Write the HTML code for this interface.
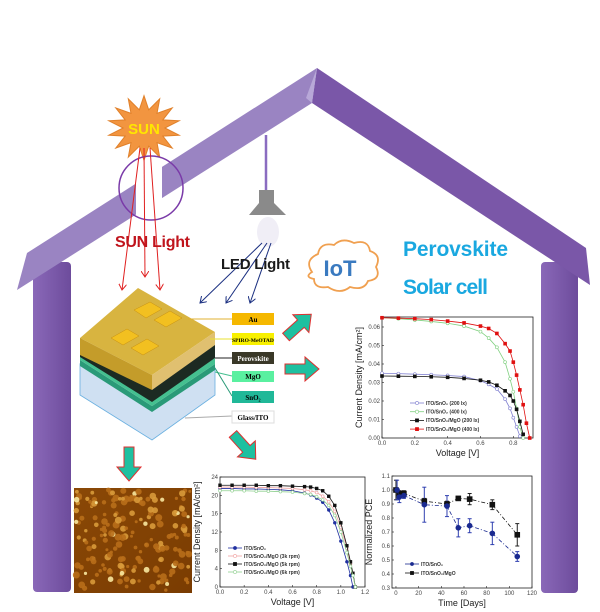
<!DOCTYPE html>
<html><head><meta charset="utf-8">
<style>
html,body{margin:0;padding:0;background:#fff;}
svg{display:block;font-family:"Liberation Sans",sans-serif;}
</style></head>
<body>
<svg id="s" width="600" height="612" viewBox="0 0 600 612" xmlns="http://www.w3.org/2000/svg">
<defs>
<linearGradient id="wallg" x1="0" x2="1"><stop offset="0" stop-color="#8a68b8"/><stop offset="1" stop-color="#6d4c9c"/></linearGradient>
<linearGradient id="afm" x1="0" y1="0" x2="1" y2="1"><stop offset="0" stop-color="#8a4806"/><stop offset="1" stop-color="#7a3c02"/></linearGradient>
<marker id="ar" markerWidth="8" markerHeight="8" refX="6" refY="4" orient="auto" markerUnits="userSpaceOnUse"><path d="M0,0 L6,4 L0,8" fill="none" stroke="#e02020" stroke-width="1"/></marker>
<marker id="ab" markerWidth="8" markerHeight="8" refX="6" refY="4" orient="auto" markerUnits="userSpaceOnUse"><path d="M0,0 L6,4 L0,8" fill="none" stroke="#1a2f80" stroke-width="1"/></marker>
</defs>
<!-- house -->
<g>
<rect x="33" y="262" width="38" height="330" rx="4" fill="url(#wallg)"/>
<rect x="541" y="262" width="37" height="331" rx="4" fill="url(#wallg)"/>
<polygon points="27,253 317,68 312,103 17,290" fill="#9a84c2"/>
<polygon points="317,68 586,248 590,285 312,103" fill="#7a57a8"/>
<polygon points="317,68 312,103 306,98" fill="#b8a8d8"/>
<rect x="136" y="150" width="26" height="80" fill="#fff"/>
</g>
<!-- sun -->
<g>
<polygon id="star" fill="#f29540" stroke="#e0802a" stroke-width="1"/>
<text x="144" y="134" font-size="15" font-weight="bold" fill="#ffe600" text-anchor="middle">SUN</text>
</g>
<circle cx="151" cy="188" r="32" fill="none" stroke="#7a3aa8" stroke-width="1.5"/>
<g stroke="#e02020" stroke-width="1">
<line x1="140" y1="148" x2="122" y2="290" marker-end="url(#ar)"/>
<line x1="144" y1="148" x2="145" y2="277" marker-end="url(#ar)"/>
<line x1="150" y1="148" x2="160" y2="290" marker-end="url(#ar)"/>
</g>
<text x="115" y="247" font-size="16" font-weight="bold" fill="#c0141c" textLength="75">SUN Light</text>
<!-- lamp -->
<g>
<line x1="266" y1="135" x2="266" y2="191" stroke="#8a6cc0" stroke-width="2.5"/>
<polygon points="259,190 274,190 274,203 286,215 249,215 259,203" fill="#8a8a8a"/>
<ellipse cx="268" cy="232" rx="11" ry="15" fill="#f0eef6"/>
</g>
<g stroke="#1a2f80" stroke-width="1">
<line x1="262" y1="243" x2="200" y2="303" marker-end="url(#ab)"/>
<line x1="267" y1="243" x2="226" y2="303" marker-end="url(#ab)"/>
<line x1="271" y1="243" x2="250" y2="303" marker-end="url(#ab)"/>
</g>
<text x="221" y="269" font-size="15" font-weight="bold" fill="#1a1a1a" textLength="69">LED Light</text>
<g>
<path d="M312,272 q-8,-12 6,-18 q2,-12 16,-9 q8,-8 20,-2 q14,-4 16,8 q12,4 6,16 q6,12 -8,14 q-4,10 -18,6 q-10,8 -22,0 q-14,2 -14,-8 q-10,-2 -2,-7z" fill="#fff" stroke="#f0a050" stroke-width="1.8"/>
<text x="340" y="276" font-size="22" font-weight="bold" fill="#3a7ac0" text-anchor="middle">IoT</text>
</g>
<text x="403" y="256" font-size="21" font-weight="bold" fill="#1aa8e0" textLength="105">Perovskite</text>
<text x="403" y="294" font-size="21" font-weight="bold" fill="#1aa8e0" textLength="85">Solar cell</text>
<!-- device stack -->
<g>
<polygon points="80,364 152,410 215,368 215,395 152,440 80,395" fill="#cfe0f2" stroke="#6ab0e0" stroke-width="0.8"/>
<polygon points="80,360 152,406 215,364 215,370 152,412 80,366" fill="#2a9a78"/>
<polygon points="80,355 152,400 215,358 215,364 152,406 80,360" fill="#45c090"/>
<polygon points="80,338 152,383 215,340 215,358 152,402 80,357" fill="#1c2a22"/>
<polygon points="80,338 138,288 215,332 152,375" fill="#d8b440"/>
<polygon points="80,338 152,375 152,390 80,355" fill="#c49c2a"/>
<polygon points="152,375 215,332 215,345 152,390" fill="#e0c070"/>
<g fill="#f2c020" stroke="#c89010" stroke-width="0.5">
<polygon points="134,310 150,302 162,309 146,318"/>
<polygon points="111,338 127,329 139,336 123,345"/>
<polygon points="154,320 170,311 182,318 166,327"/>
<polygon points="131,348 147,339 159,346 143,355"/>
</g>
</g>
<g font-family="Liberation Serif,serif" font-size="7" font-weight="bold" text-anchor="middle">
<line x1="188" y1="319" x2="232" y2="319" stroke="#e0b030"/><rect x="232" y="313" width="42" height="12" fill="#f5b800"/><text x="253" y="322">Au</text>
<line x1="210" y1="339" x2="232" y2="339" stroke="#e8e030"/><rect x="232" y="333" width="42" height="12" fill="#f8f000"/><text x="253" y="342" font-size="5.5">SPIRO-MeOTAD</text>
<line x1="215" y1="358" x2="232" y2="358" stroke="#222"/><rect x="232" y="352" width="42" height="12" fill="#3a3828"/><text x="253" y="361" fill="#fff">Perovskite</text>
<line x1="215" y1="372" x2="232" y2="376" stroke="#45c090"/><rect x="232" y="371" width="42" height="11" fill="#5af0a0"/><text x="253" y="379">MgO</text>
<line x1="215" y1="368" x2="232" y2="396" stroke="#2a9a78"/><rect x="232" y="391" width="42" height="12" fill="#20b898"/><text x="253" y="400">SnO₂</text>
<line x1="185" y1="418" x2="232" y2="416" stroke="#aaa"/><rect x="232" y="411" width="42" height="12" fill="#fff" stroke="#ddd"/><text x="253" y="420">Glass/ITO</text>
</g>
<!-- green arrows -->
<g fill="#1ec0a0" stroke="#e03030" stroke-width="1">
<polygon points="0,-5 20,-5 20,-12 34,0 20,12 20,5 0,5" transform="translate(285,369)"/>
<polygon points="0,-5 20,-5 20,-12 34,0 20,12 20,5 0,5" transform="translate(286,337) rotate(-42)"/>
<polygon points="0,-5 20,-5 20,-12 34,0 20,12 20,5 0,5" transform="translate(233,434) rotate(48)"/>
<polygon points="0,-5 20,-5 20,-12 34,0 20,12 20,5 0,5" transform="translate(129,447) rotate(90)"/>
</g>
<!-- AFM -->
<rect x="74" y="488" width="118" height="105" fill="url(#afm)"/>
<g id="afmdots"></g>
<g id="c1"></g>
<g id="c2"></g>
<g id="c3"></g>
</svg>
<script>
// ---- chart 1 data (low-light J-V)
const c1V=[0,0.1,0.2,0.3,0.4,0.5,0.6,0.65,0.7,0.75,0.78,0.8,0.82,0.84,0.86,0.88,0.9];
const c1A=[0.035,0.0348,0.0345,0.0342,0.0338,0.0332,0.031,0.029,0.0265,0.021,0.016,0.011,0.006,0.001,null,null,null];
const c1B=[0.065,0.0645,0.0638,0.063,0.062,0.0605,0.0575,0.054,0.049,0.041,0.032,0.025,0.016,0.006,0,null,null];
const c1C=[0.0335,0.0334,0.0333,0.0331,0.0328,0.0322,0.0312,0.0303,0.0285,0.0255,0.023,0.02,0.0155,0.009,0.002,null,null];
const c1D=[0.065,0.0648,0.0645,0.064,0.0632,0.0622,0.0605,0.0592,0.0565,0.051,0.047,0.041,0.034,0.026,0.018,0.008,0];
const c1Names=["ITO/SnO₂ (200 lx)","ITO/SnO₂ (400 lx)","ITO/SnO₂/MgO (200 lx)","ITO/SnO₂/MgO (400 lx)"];
const c1YTicks=[0,0.01,0.02,0.03,0.04,0.05,0.06];
const c1XTicks=[0,0.2,0.4,0.6,0.8];
// ---- chart 2 data (J-V spin speeds)
const c2V=[0,0.1,0.2,0.3,0.4,0.5,0.6,0.7,0.75,0.8,0.85,0.9,0.95,1.0,1.05,1.08,1.1,1.12,1.14];
const c2A=[21.5,21.5,21.4,21.4,21.3,21.2,21,20.5,20.1,19.4,18.5,16.8,14,10,5.5,2.5,0,null,null];
const c2B=[21.8,21.8,21.8,21.7,21.7,21.6,21.5,21.2,21,20.6,19.8,18.6,16.5,13,8.5,5,3,0,null];
const c2C=[22.2,22.2,22.2,22.2,22.1,22.1,22,21.9,21.8,21.5,21,19.8,17.8,14,9,5.5,3,0,null];
const c2D=[21,21,21,20.9,20.9,20.8,20.7,20.4,20.2,19.7,19,17.8,15.6,12,7.5,4.5,2.5,0,null];
const c2Names=["ITO/SnO₂","ITO/SnO₂/MgO (3k rpm)","ITO/SnO₂/MgO (5k rpm)","ITO/SnO₂/MgO (6k rpm)"];
const c2YTicks=[0,4,8,12,16,20,24];
const c2XTicks=[0,0.2,0.4,0.6,0.8,1.0,1.2];
// ---- chart 3 data (stability)
const c3DaysA=[1,3,7,25,45,55,65,85,107];
const c3A=[1.0,0.95,0.96,0.895,0.885,0.73,0.745,0.69,0.525];
const c3ErrA=[0.07,0.04,0.02,0.125,0.075,0.065,0.05,0.08,0.035];
const c3DaysB=[0,3,7,25,45,55,65,85,107];
const c3B=[1.0,0.975,0.975,0.92,0.9,0.94,0.935,0.895,0.68];
const c3ErrB=[0.07,0.02,0.02,0.02,0.02,0.01,0.04,0.035,0.08];
const c3Names=["ITO/SnO₂","ITO/SnO₂/MgO"];
const c3YTicks=[0.3,0.4,0.5,0.6,0.7,0.8,0.9,1.0,1.1];
const c3XTicks=[0,20,40,60,80,100,120];

const NS="http://www.w3.org/2000/svg";
function mk(p,t,a){const e=document.createElementNS(NS,t);for(const k in a)e.setAttribute(k,a[k]);p.appendChild(e);return e;}
function txt(p,x,y,s,fs,anc,extra){const e=mk(p,'text',Object.assign({x:x,y:y,'font-size':fs,'text-anchor':anc||'start',fill:'#222'},extra||{}));e.textContent=s;return e;}

// star
(function(){const pts=[];const n=14;for(let i=0;i<2*n;i++){const a=i*Math.PI/n-Math.PI/2;const r=i%2?22:38;pts.push((144+r*Math.cos(a)*0.95).toFixed(1)+','+(128+r*Math.sin(a)*0.85).toFixed(1));}document.getElementById('star').setAttribute('points',pts.join(' '));})();

// AFM grains (decorative texture)
(function(){const g=document.getElementById('afmdots');let s=7;function rnd(){s=(s*9301+49297)%233280;return s/233280;}
for(let i=0;i<190;i++){const b=rnd();mk(g,'circle',{cx:(76+rnd()*114).toFixed(1),cy:(490+rnd()*101).toFixed(1),r:(1.5+rnd()*2).toFixed(1),fill:b>0.9?'#f8e8a0':(b>0.6?'#d89a3a':'#b86e1a'),opacity:0.9});}
})();

function frame(g,L,T,R,B,xmin,xmax,ymin,ymax,xt,yt,xfmt,yfmt,xl,yl){
  const sx=v=>L+(v-xmin)/(xmax-xmin)*(R-L), sy=v=>B-(v-ymin)/(ymax-ymin)*(B-T);
  const fr=mk(g,'rect',{x:L,y:T,width:R-L,height:B-T,fill:'#fff',stroke:'#222','stroke-width':0.8});
  
  
  xt.forEach(v=>{mk(g,'line',{x1:sx(v),x2:sx(v),y1:B,y2:B-2,stroke:'#222','stroke-width':0.6});
    const t=txt(g,sx(v),B+7,xfmt(v),6,'middle',{fill:'#444'});});
  yt.forEach(v=>{mk(g,'line',{x1:L,x2:L+2,y1:sy(v),y2:sy(v),stroke:'#222','stroke-width':0.6});
    const t=txt(g,L-2,sy(v)+2,yfmt(v),6,'end',{fill:'#444'});});
  const xa=txt(g,(L+R)/2,B+18,xl,9,'middle');
  const ya=txt(g,0,0,yl,9,'middle',{transform:`translate(${L-20},${(T+B)/2}) rotate(-90)`});
  return [sx,sy];
}
function marker(g,x,y,shape,col,fill,r){
  let e;
  if(shape==='c')e=mk(g,'circle',{cx:x,cy:y,r:r,fill:fill,stroke:col,'stroke-width':0.6});
  else e=mk(g,'rect',{x:x-r,y:y-r,width:2*r,height:2*r,fill:fill,stroke:col,'stroke-width':0.6});
  
  
}
function series(g,sx,sy,xs,ys,col,shape,fill,r,dash){
  const pts=[];xs.forEach((x,i)=>{if(ys[i]!=null)pts.push([sx(x),sy(ys[i])]);});
  const l=mk(g,'polyline',{points:pts.map(p=>p.join(',')).join(' '),fill:'none',stroke:col,'stroke-width':0.8,'stroke-dasharray':dash||'none'});
  
  
  pts.forEach(p=>marker(g,p[0],p[1],shape,col,fill,r));
}
function legend(g,x,y,dy,names,cols,shapes,fills){
  names.forEach((n,i)=>{const yy=y+i*dy;mk(g,'line',{x1:x,x2:x+14,y1:yy,y2:yy,stroke:cols[i],'stroke-width':0.8});
    marker(g,x+7,yy,shapes[i],cols[i],fills[i],1.6);
    const t=txt(g,x+16,yy+1.8,n,5,'start',{'font-weight':'bold',fill:'#333'});
    
    });
}
// chart 1
(function(){const g=document.getElementById('c1');
 const [sx,sy]=frame(g,382,317,533,438,0,0.92,0,0.0654,c1XTicks,c1YTicks,v=>v.toFixed(1),v=>v.toFixed(2),'Voltage [V]','Current Density [mA/cm²]');
 const cols=['#8080d0','#80d080','#111','#e01010'],fills=['#fff','#fff','#111','#e01010'];
 [c1A,c1B,c1C,c1D].forEach((s,i)=>series(g,sx,sy,c1V,s,cols[i],i<2?'c':'s',fills[i],1.5));
 legend(g,410,403,8.7,c1Names,cols,['c','c','s','s'],fills);})();
// chart 2
(function(){const g=document.getElementById('c2');
 const [sx,sy]=frame(g,220,477,365,587,0,1.2,0,24,c2XTicks,c2YTicks,v=>v.toFixed(1),v=>String(v),'Voltage [V]','Current Density [mA/cm²]');
 const cols=['#2030a0','#f0a0a0','#111','#90d090'],fills=['#2030a0','#fff','#111','#fff'];
 [c2A,c2B,c2C,c2D].forEach((s,i)=>series(g,sx,sy,c2V,s,cols[i],i===2?'s':'c',fills[i],1.4));
 legend(g,228,548,8,c2Names,cols,['c','c','s','c'],fills);})();
// chart 3
(function(){const g=document.getElementById('c3');
 const [sx,sy]=frame(g,392,476,532,588,-3.5,120,0.3,1.1,c3XTicks,c3YTicks,v=>String(v),v=>v.toFixed(1),'Time [Days]','Normalized PCE');
 function eb(xs,ys,es,col){xs.forEach((x,i)=>{const X=sx(x);mk(g,'line',{x1:X,x2:X,y1:sy(ys[i]-es[i]),y2:sy(ys[i]+es[i]),stroke:col,'stroke-width':1});
  mk(g,'line',{x1:X-2,x2:X+2,y1:sy(ys[i]-es[i]),y2:sy(ys[i]-es[i]),stroke:col,'stroke-width':1});
  mk(g,'line',{x1:X-2,x2:X+2,y1:sy(ys[i]+es[i]),y2:sy(ys[i]+es[i]),stroke:col,'stroke-width':1});});}
 eb(c3DaysB,c3B,c3ErrB,'#222');eb(c3DaysA,c3A,c3ErrA,'#3040b0');
 series(g,sx,sy,c3DaysB,c3B,'#111','s','#111',2.5,'4,2,1,2');
 series(g,sx,sy,c3DaysA,c3A,'#1a2a90','c','#1a2a90',2.5,'4,2,1,2');
 legend(g,405,564,9,c3Names,['#1a2a90','#111'],['c','s'],['#1a2a90','#111']);})();
</script>
</body></html>
